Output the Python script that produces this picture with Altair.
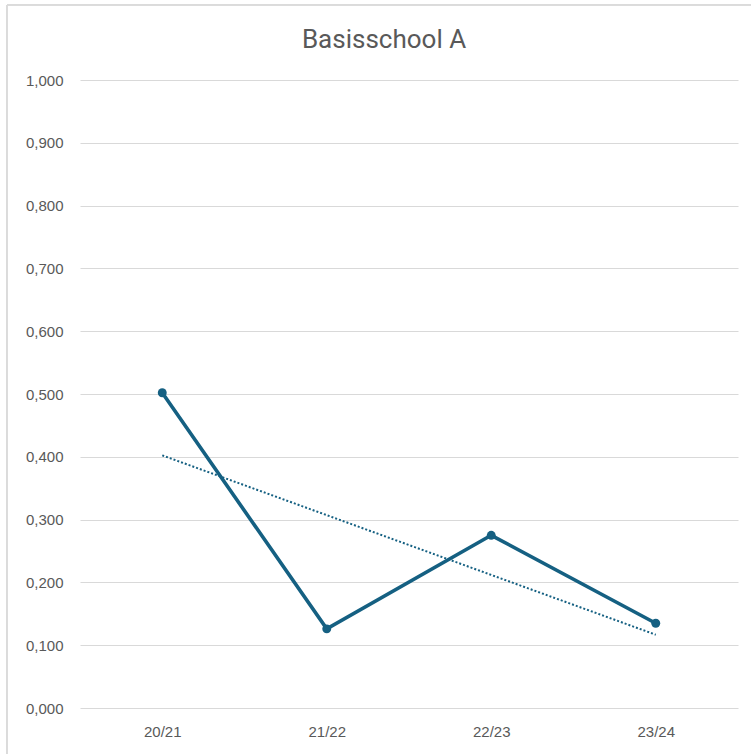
import altair as alt
import pandas as pd

# Season labels and measured values per school year
seasons = ["20/21", "21/22", "22/23", "23/24"]
values = [0.502, 0.126, 0.275, 0.135]

LINE = "#156082"
GRID = "#d9d9d9"
TEXT = "#595959"

df = pd.DataFrame({"season": seasons, "i": list(range(len(seasons))), "v": values})
base = alt.Chart(df)

# Seasons sit at integer positions, centred in equal-width slots
x_scale = alt.Scale(domain=[-0.5, len(seasons) - 0.5], nice=False, zero=False)
y_scale = alt.Scale(domain=[0, 1], nice=False)

season_lookup = "[" + ",".join(f"'{s}'" for s in seasons) + "][datum.value]"

x_axis = alt.Axis(
    values=list(range(len(seasons))),
    labelExpr=season_lookup,
    labelAngle=0, domain=False, ticks=False, grid=False,
    labelPadding=16, labelFontSize=15, labelColor=TEXT,
    labelFont="Liberation Sans", title=None,
)

y_axis = alt.Axis(
    values=[round(k / 10, 1) for k in range(11)],
    labelExpr="replace(format(datum.value, '.3f'), '.', ',')",
    grid=True, gridColor=GRID, gridWidth=1,
    domain=False, ticks=False, labelPadding=17,
    labelFontSize=15, labelColor=TEXT, labelFont="Liberation Sans",
    title=None,
)

line = base.mark_line(color=LINE, strokeWidth=3.6).encode(
    x=alt.X("i:Q", scale=x_scale, axis=x_axis),
    y=alt.Y("v:Q", scale=y_scale, axis=y_axis),
)

points = base.mark_point(filled=True, color=LINE, size=80, opacity=1).encode(
    x=alt.X("i:Q", scale=x_scale),
    y=alt.Y("v:Q", scale=y_scale),
)

# Linear trend line over the season index
trend = base.transform_regression("i", "v", method="linear").mark_line(
    color=LINE, strokeWidth=2, strokeDash=[2, 2]
).encode(
    x=alt.X("i:Q", scale=x_scale),
    y=alt.Y("v:Q", scale=y_scale),
)

# Thin chart-area frame on the left and top
frame_left = base.mark_rule(color=GRID, strokeWidth=1).encode(
    x=alt.value(-73), y=alt.value(-75), y2=alt.value(674)
)
frame_top = base.mark_rule(color=GRID, strokeWidth=1).encode(
    x=alt.value(-73), x2=alt.value(671), y=alt.value(-75)
)

# The frame extends the group bounds upward, so the title is pulled back down
chart = alt.layer(line, points, trend, frame_left, frame_top).properties(
    width=658,
    height=628,
    background="white",
    padding={"left": 80, "top": 80, "right": 13, "bottom": 46},
    autosize=alt.AutoSizeParams(type="none"),
    title=alt.TitleParams(
        "Basisschool A", fontSize=26, font="Roboto", fontWeight="normal",
        color=TEXT, anchor="middle", baseline="bottom", offset=-74, dx=-25,
        frame="group",
    ),
).configure_view(strokeWidth=0)

chart.save("out.html", embed_options={"renderer": "svg", "actions": False})
